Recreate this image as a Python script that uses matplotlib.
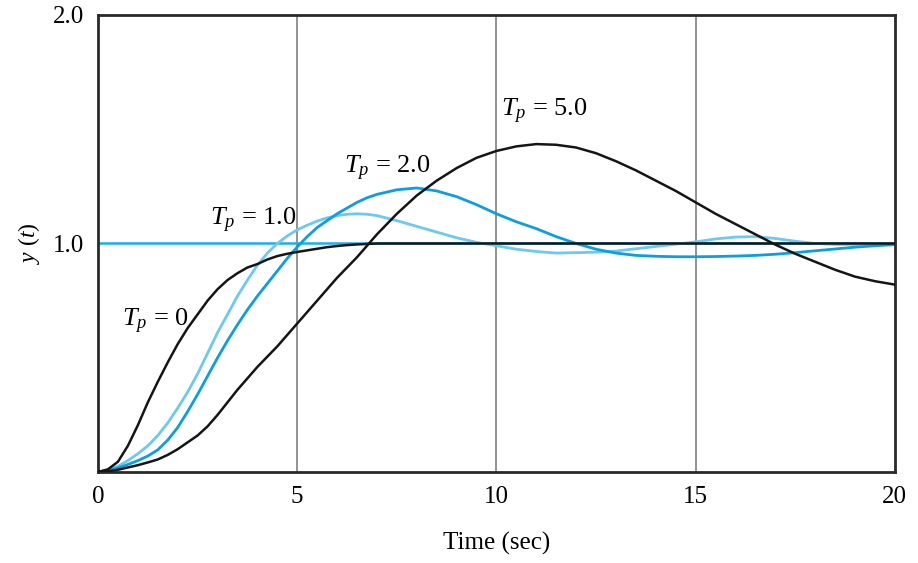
import numpy as np
import matplotlib
matplotlib.use('Agg')
import matplotlib.pyplot as plt

plt.rcParams['font.family'] = ['Liberation Serif', 'DejaVu Serif']
plt.rcParams['mathtext.fontset'] = 'custom'
plt.rcParams['mathtext.rm'] = 'Liberation Serif'
plt.rcParams['mathtext.it'] = 'Liberation Serif:italic'

# time axis (sec): finer steps during the fast rise
t = np.concatenate([np.arange(0, 7.25, 0.25), np.arange(7.5, 20.5, 0.5)])

# step responses
y_tp0 = [0, 0.012, 0.045, 0.115, 0.205, 0.305, 0.395, 0.48, 0.56, 0.63,
         0.69, 0.75, 0.80, 0.84, 0.87, 0.895, 0.91, 0.93, 0.945, 0.955,
         0.963, 0.97, 0.977, 0.984, 0.989, 0.993, 0.996, 0.998, 1.0,
         1.0, 1.0, 1.0, 1.0, 1.0, 1.0, 1.0, 1.0, 1.0, 1.0,
         1.0, 1.0, 1.0, 1.0, 1.0, 1.0, 1.0, 1.0, 1.0, 1.0,
         1.0, 1.0, 1.0, 1.0, 1.0, 1.0]
y_tp1 = [0, 0.008, 0.025, 0.05, 0.08, 0.115, 0.16, 0.215, 0.28, 0.35,
         0.43, 0.52, 0.61, 0.69, 0.77, 0.84, 0.905, 0.958, 1.0, 1.033,
         1.06, 1.08, 1.098, 1.112, 1.122, 1.128, 1.13, 1.128, 1.122,
         1.10, 1.075, 1.05, 1.025, 1.005, 0.99, 0.975, 0.965, 0.958, 0.96,
         0.962, 0.967, 0.977, 0.987, 0.997, 1.007, 1.02, 1.028, 1.03, 1.022,
         1.01, 1.0, 0.996, 0.996, 0.998, 1.0]
y_tp2 = [0, 0.006, 0.018, 0.033, 0.05, 0.07, 0.097, 0.14, 0.195, 0.265,
         0.34, 0.42, 0.50, 0.575, 0.645, 0.71, 0.77, 0.825, 0.88, 0.935,
         0.985, 1.03, 1.07, 1.10, 1.13, 1.155, 1.18, 1.20, 1.215,
         1.235, 1.243, 1.23, 1.205, 1.17, 1.13, 1.095, 1.065, 1.03, 1.0,
         0.975, 0.958, 0.948, 0.944, 0.942, 0.942, 0.943, 0.945, 0.948, 0.953,
         0.96, 0.968, 0.976, 0.984, 0.99, 0.995]
y_tp5 = [0, 0.003, 0.01, 0.02, 0.03, 0.042, 0.055, 0.075, 0.10, 0.13,
         0.16, 0.20, 0.25, 0.305, 0.36, 0.41, 0.46, 0.505, 0.55, 0.60,
         0.65, 0.70, 0.75, 0.80, 0.85, 0.895, 0.94, 0.99, 1.04,
         1.13, 1.21, 1.275, 1.33, 1.375, 1.405, 1.425, 1.435, 1.432, 1.42,
         1.395, 1.36, 1.32, 1.275, 1.23, 1.18, 1.13, 1.085, 1.04, 0.995,
         0.955, 0.92, 0.885, 0.855, 0.835, 0.82]

labels = [r'$T_p$ = 0', r'$T_p$ = 1.0', r'$T_p$ = 2.0', r'$T_p$ = 5.0']
label_pos = [(1.45, 0.66), (3.9, 1.10), (7.25, 1.33), (11.2, 1.58)]

fig = plt.figure(figsize=(9.18, 5.63), dpi=100)
ax = fig.add_axes([0.1068, 0.1616, 0.868, 0.8118])

ax.axhline(1.0, color='#1aaeea', lw=1.8, zorder=1)
for xv in [5, 10, 15]:
    ax.axvline(xv, color='#8a8a8a', lw=1.3, zorder=0)

ax.plot(t, y_tp0, color='#151515', lw=1.8, zorder=3)
ax.plot(t, y_tp1, color='#6cc9f0', lw=2.0, zorder=2)
ax.plot(t, y_tp2, color='#0b9fdf', lw=2.0, zorder=2)
ax.plot(t, y_tp5, color='#151515', lw=1.8, zorder=3)

for lab, (x, y) in zip(labels, label_pos):
    ax.text(x, y, lab, fontsize=19, ha='center', va='center')

ax.set_xlim(0, 20)
ax.set_ylim(0, 2.0)
ax.set_xticks([0, 5, 10, 15, 20])
ax.set_yticks([1.0, 2.0])
ax.set_yticklabels(['1.0', '2.0'])
ax.tick_params(length=0, labelsize=18, pad=10)
for s in ax.spines.values():
    s.set_color('#2a2a2a')
    s.set_linewidth(2)

ax.set_xlabel('Time (sec)', fontsize=18, labelpad=17)
ax.set_ylabel(r'$y$ ($t$)', fontsize=17, labelpad=8)

plt.savefig('out.png', dpi=100)
